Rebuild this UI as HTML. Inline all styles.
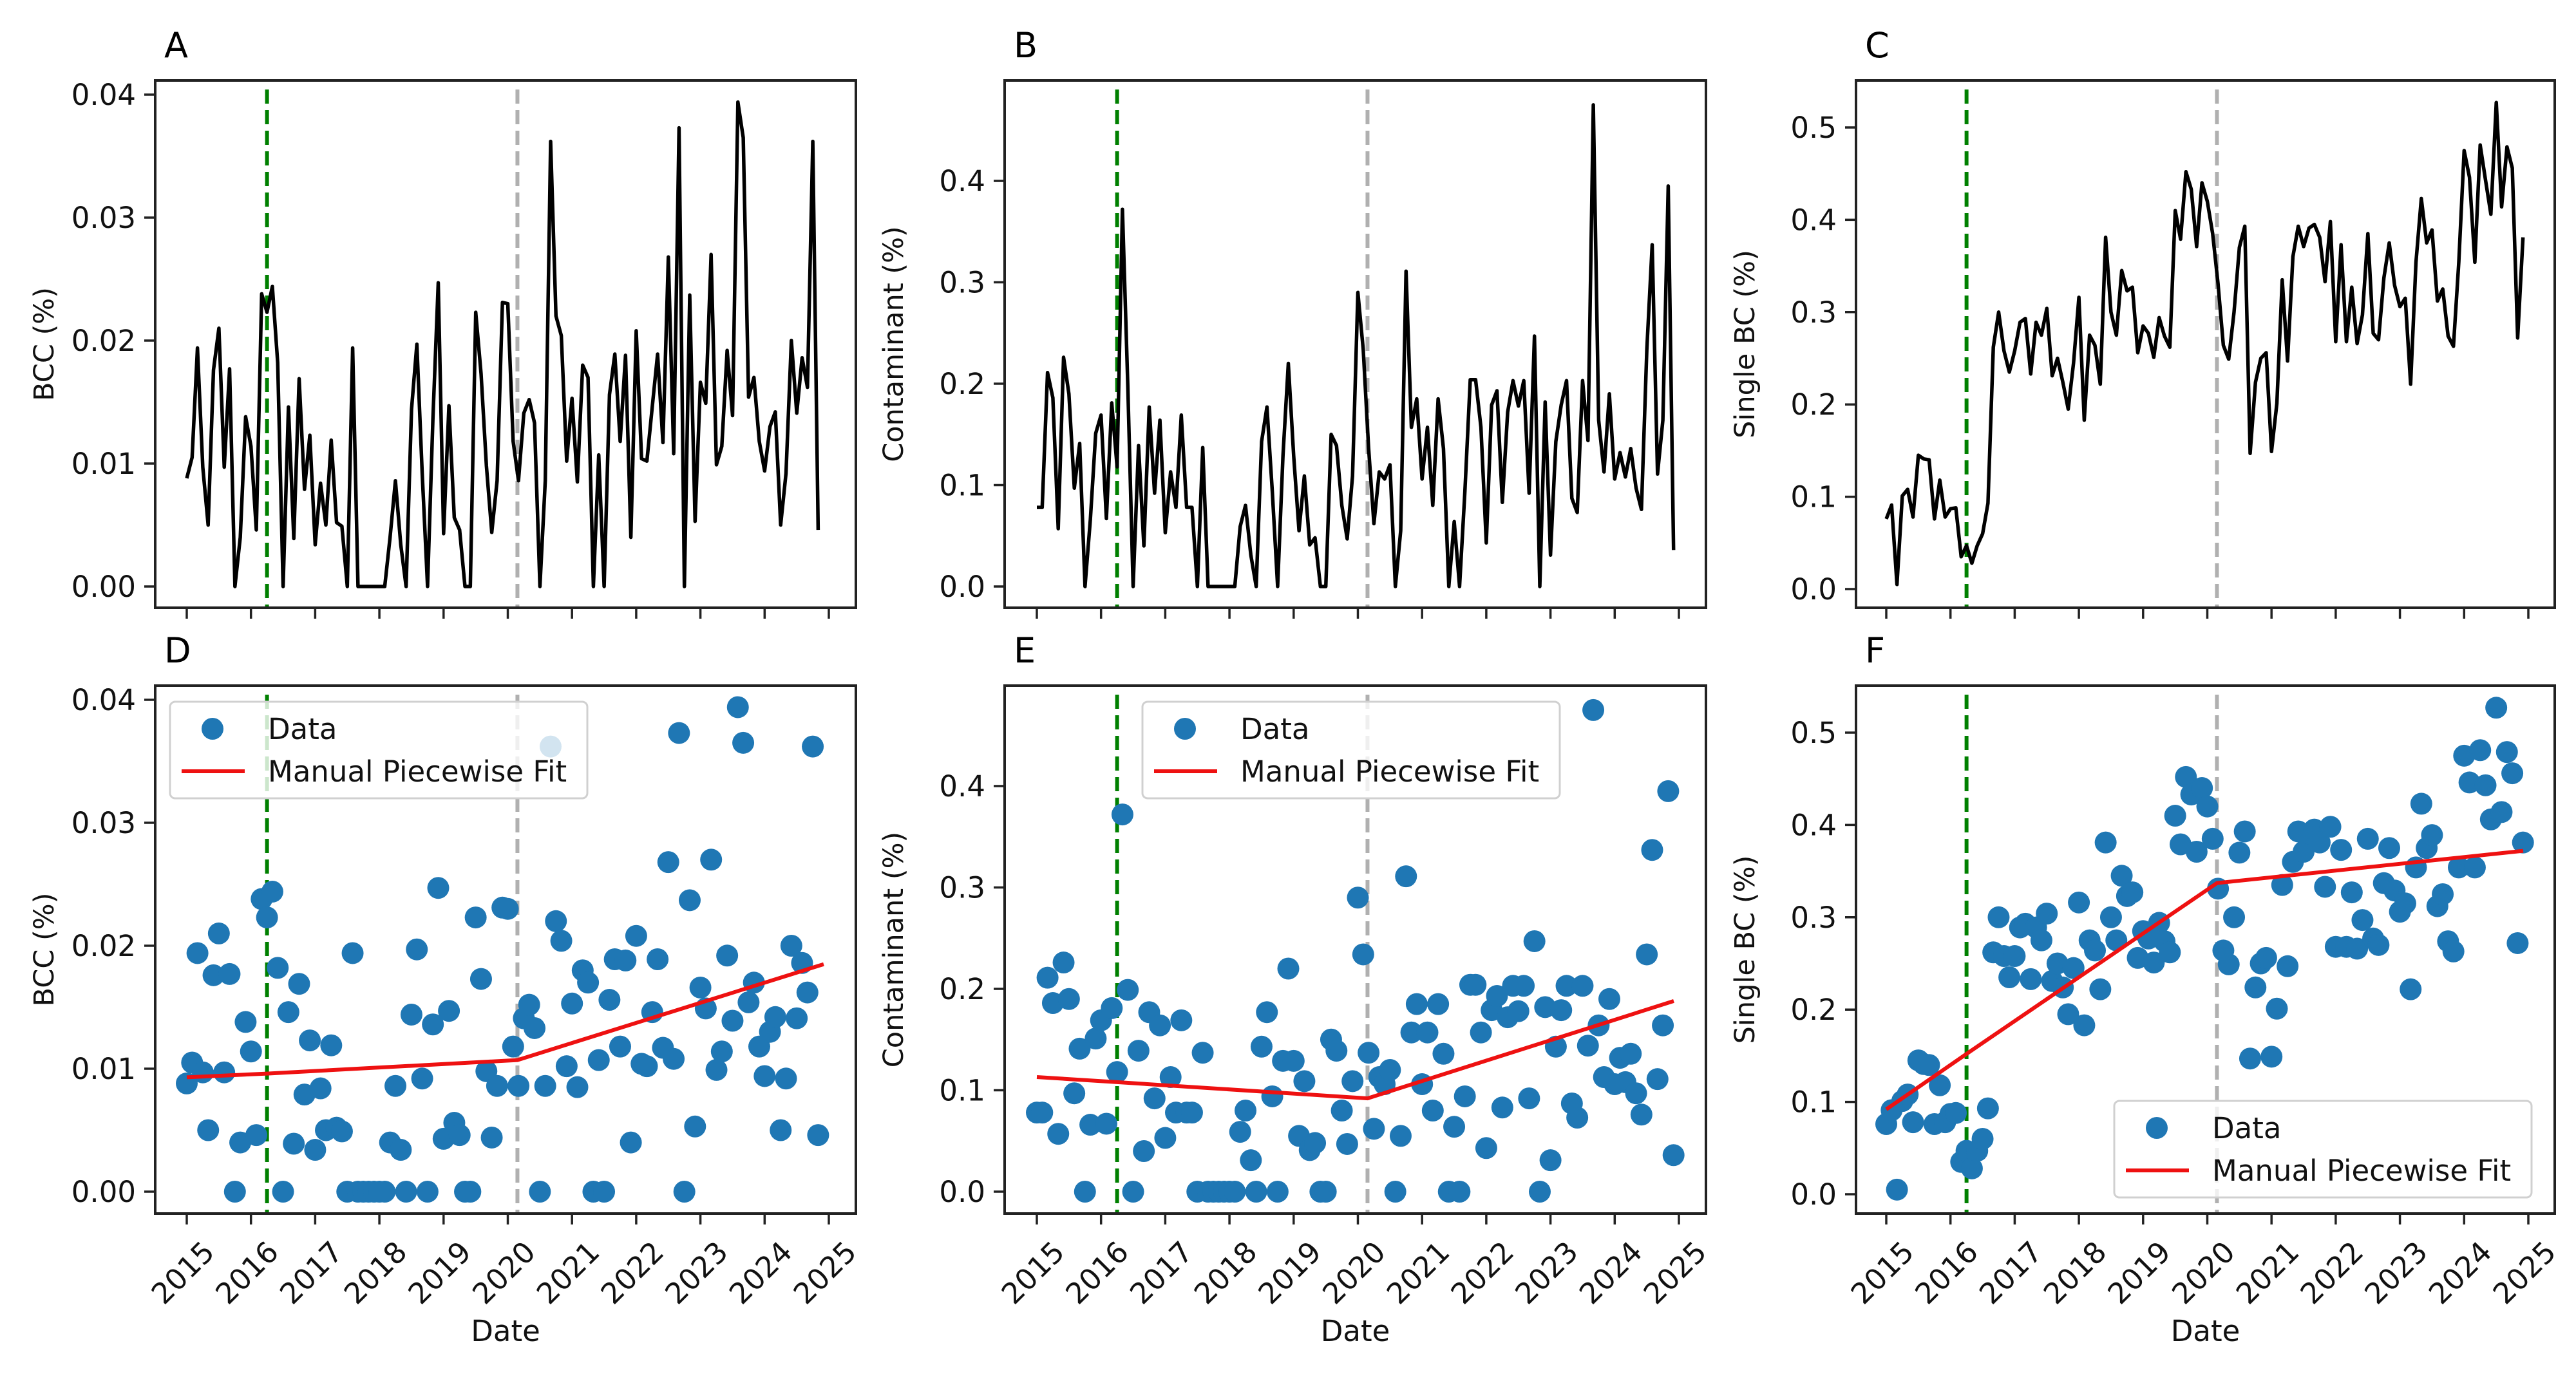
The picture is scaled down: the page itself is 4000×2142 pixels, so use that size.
<!DOCTYPE html>
<html><head><meta charset="utf-8"><style>
html,body{margin:0;padding:0;background:#fff;}
svg{display:block;font-family:"DejaVu Sans","Liberation Sans",sans-serif;}
</style></head><body>
<svg id="fig" width="4000" height="2142" viewBox="0 0 4000 2142" xmlns="http://www.w3.org/2000/svg"></svg>
<script>
const bccValues=[0.0088,0.0105,0.0194,0.0097,0.0050,0.0176,0.0210,0.0097,0.0177,0,0.0040,0.0138,0.0114,0.0046,0.0238,0.0223,0.0244,0.0182,0,0.0146,0.0039,0.0169,0.0079,0.0123,0.0034,0.0084,0.0050,0.0119,0.0052,0.0049,0,0.0194,0,0,0,0,0,0,0.0040,0.0086,0.0034,0,0.0144,0.0197,0.0092,0,0.0136,0.0247,0.0043,0.0147,0.0056,0.0046,0,0,0.0223,0.0173,0.0098,0.0044,0.0086,0.0231,0.0230,0.0118,0.0086,0.0141,0.0152,0.0133,0,0.0086,0.0362,0.0220,0.0204,0.0102,0.0153,0.0085,0.0180,0.0170,0,0.0107,0,0.0156,0.0189,0.0118,0.0188,0.0040,0.0208,0.0104,0.0102,0.0146,0.0189,0.0117,0.0268,0.0108,0.0373,0,0.0237,0.0053,0.0166,0.0149,0.0270,0.0099,0.0114,0.0192,0.0139,0.0394,0.0365,0.0154,0.0170,0.0118,0.0094,0.0130,0.0142,0.0050,0.0092,0.0200,0.0141,0.0186,0.0162,0.0362,0.0046];
const contValues=[0.078,0.078,0.211,0.186,0.057,0.226,0.190,0.097,0.141,0,0.066,0.151,0.169,0.067,0.181,0.118,0.372,0.199,0,0.139,0.040,0.177,0.092,0.164,0.053,0.113,0.078,0.169,0.078,0.078,0,0.137,0,0,0,0,0,0,0.059,0.080,0.031,0,0.143,0.177,0.094,0,0.129,0.220,0.129,0.055,0.109,0.041,0.048,0,0,0.150,0.139,0.080,0.047,0.109,0.290,0.234,0.137,0.062,0.113,0.106,0.120,0,0.055,0.311,0.157,0.185,0.106,0.157,0.080,0.185,0.136,0,0.064,0,0.094,0.204,0.204,0.157,0.043,0.179,0.193,0.083,0.172,0.203,0.178,0.203,0.092,0.247,0,0.182,0.031,0.143,0.179,0.203,0.087,0.073,0.203,0.144,0.475,0.164,0.113,0.190,0.106,0.132,0.108,0.136,0.097,0.076,0.234,0.337,0.111,0.164,0.395,0.036];
const singleValues=[0.076,0.091,0.005,0.101,0.108,0.078,0.145,0.141,0.140,0.076,0.118,0.078,0.087,0.088,0.035,0.047,0.028,0.047,0.060,0.093,0.262,0.300,0.258,0.235,0.258,0.289,0.293,0.233,0.289,0.275,0.304,0.231,0.250,0.224,0.195,0.245,0.316,0.183,0.275,0.264,0.222,0.381,0.300,0.275,0.345,0.323,0.327,0.256,0.285,0.277,0.251,0.294,0.274,0.262,0.410,0.379,0.452,0.433,0.371,0.440,0.420,0.385,0.331,0.264,0.249,0.300,0.370,0.393,0.147,0.224,0.250,0.256,0.149,0.201,0.335,0.247,0.360,0.393,0.371,0.391,0.395,0.381,0.333,0.398,0.268,0.373,0.268,0.327,0.266,0.297,0.385,0.277,0.270,0.337,0.375,0.329,0.306,0.315,0.222,0.354,0.423,0.375,0.389,0.312,0.325,0.274,0.263,0.354,0.475,0.446,0.354,0.481,0.443,0.406,0.527,0.414,0.479,0.456,0.272,0.381];
const startYear=2015;
const yearTicks=[2015,2016,2017,2018,2019,2020,2021,2022,2023,2024,2025];
const bccTicks=[0,0.01,0.02,0.03,0.04];
const bccTickLabels=["0.00","0.01","0.02","0.03","0.04"];
const contTicks=[0,0.1,0.2,0.3,0.4];
const contTickLabels=["0.0","0.1","0.2","0.3","0.4"];
const singleTicks=[0,0.1,0.2,0.3,0.4,0.5];
const singleTickLabels=["0.0","0.1","0.2","0.3","0.4","0.5"];
const vlineDates=[2016.25,2020.15];
const fitDates=[2015.0,2016.25,2020.15,2024.92];
const bccFit=[0.0093,0.0096,0.0107,0.0185];
const contFit=[0.113,0.108,0.092,0.188];
const singleFit=[0.092,0.152,0.337,0.372];

const NS="http://www.w3.org/2000/svg";
const svg=document.getElementById('fig');
function mk(tag,attrs,parent){const e=document.createElementNS(NS,tag);for(const k in attrs)e.setAttribute(k,attrs[k]);(parent||svg).appendChild(e);return e;}

const cols=[{left:241,right:1329,x0:290},{left:1560,right:2649,x0:1610},{left:2882,right:3967,x0:2929}];
const rows=[{top:125,bottom:944},{top:1065,bottom:1885}];
const yearPx=99.7;
const panels=[
 {letter:'A',col:0,row:0,vals:bccValues,ticks:bccTicks,labels:bccTickLabels,zero:911,scale:19100,ylabel:'BCC (%)',scatter:false},
 {letter:'B',col:1,row:0,vals:contValues,ticks:contTicks,labels:contTickLabels,zero:911,scale:1575,ylabel:'Contaminant (%)',scatter:false},
 {letter:'C',col:2,row:0,vals:singleValues,ticks:singleTicks,labels:singleTickLabels,zero:915,scale:1434,ylabel:'Single BC (%)',scatter:false},
 {letter:'D',col:0,row:1,vals:bccValues,ticks:bccTicks,labels:bccTickLabels,zero:1851,scale:19100,ylabel:'BCC (%)',scatter:true,fit:bccFit,legend:{x:264,y:1090}},
 {letter:'E',col:1,row:1,vals:contValues,ticks:contTicks,labels:contTickLabels,zero:1851,scale:1575,ylabel:'Contaminant (%)',scatter:true,fit:contFit,legend:{x:1774,y:1090}},
 {letter:'F',col:2,row:1,vals:singleValues,ticks:singleTicks,labels:singleTickLabels,zero:1855,scale:1434,ylabel:'Single BC (%)',scatter:true,fit:singleFit,legend:{x:3283,y:1710}}
];

panels.forEach(p=>{
  const c=cols[p.col],r=rows[p.row];
  const X=d=>c.x0+(d-startYear)*yearPx;
  const Y=v=>p.zero-v*p.scale;
  const g=mk('g',{});
  
  
  const clipId='clip'+p.letter;
  const cp=mk('clipPath',{id:clipId},g);
  mk('rect',{x:c.left,y:r.top,width:c.right-c.left,height:r.bottom-r.top},cp);
  // letter
  const t=mk('text',{x:c.left+14,y:r.top-36,'font-size':54,fill:'#000'},g);
  t.textContent=p.letter;
  
  
  // plot group
  const pg=mk('g',{'clip-path':'url(#'+clipId+')'},g);
  // vlines
  vlineDates.forEach((d,i)=>{
    const l=mk('line',{x1:X(d),x2:X(d),y1:r.top+14,y2:r.bottom,stroke:i===0?'#008000':'#b0b0b0','stroke-width':6,'stroke-dasharray':'22,10'},pg);
    
    
  });
  if(!p.scatter){
    const pts=p.vals.map((v,i)=>X(startYear+i/12).toFixed(1)+','+Y(v).toFixed(1)).join(' ');
    const pl=mk('polyline',{points:pts,fill:'none',stroke:'#000','stroke-width':5.5,'stroke-linejoin':'round'},pg);
    
    
  } else {
    p.vals.forEach((v,i)=>{
      const ci=mk('circle',{cx:X(startYear+i/12),cy:Y(v),r:17,fill:'#1f77b4'},pg);
      
      
    });
    const fp=p.fit.map((v,i)=>X(fitDates[i]).toFixed(1)+','+Y(v).toFixed(1)).join(' ');
    const fl=mk('polyline',{points:fp,fill:'none',stroke:'#ee1111','stroke-width':6},pg);
    
    
  }
  // frame
  const fr=mk('rect',{x:c.left,y:r.top,width:c.right-c.left,height:r.bottom-r.top,fill:'none',stroke:'#222','stroke-width':4},g);
  
  
  // y ticks
  p.ticks.forEach((v,i)=>{
    const y=Y(v);
    mk('line',{x1:c.left-17,x2:c.left,y1:y,y2:y,stroke:'#222','stroke-width':3.5},g);
    const tl=mk('text',{x:c.left-30,y:y+16,'font-size':45,'text-anchor':'end',fill:'#111'},g);
    tl.textContent=p.labels[i];
    
    
  });
  // x ticks
  yearTicks.forEach(yr=>{
    const x=X(yr);
    mk('line',{x1:x,x2:x,y1:r.bottom,y2:r.bottom+17,stroke:'#222','stroke-width':3.5},g);
    if(p.row===1){
      const tl=mk('text',{x:x-6,y:r.bottom+92,'font-size':45,'text-anchor':'middle','dominant-baseline':'central',fill:'#111',transform:'rotate(-45 '+(x-6)+' '+(r.bottom+92)+')'},g);
      tl.textContent=String(yr);
      
      
    }
  });
  if(p.row===1){
    const xl=mk('text',{x:(c.left+c.right)/2,y:r.bottom+198,'font-size':45,'text-anchor':'middle',fill:'#111'},g);
    xl.textContent='Date';
    
    
  }
  const yc=(r.top+r.bottom)/2, yx=c.left-172;
  const yl=mk('text',{x:yx,y:yc,'font-size':43,'text-anchor':'middle','dominant-baseline':'central',fill:'#111',transform:'rotate(-90 '+yx+' '+yc+')'},g);
  yl.textContent=p.ylabel;
  
  
  if(p.legend){
    const L=p.legend;
    const lg=mk('g',{},g);
    
    
    mk('rect',{x:L.x,y:L.y,width:648,height:150,rx:8,fill:'#fff','fill-opacity':0.8,stroke:'#d0d0d0','stroke-width':3},lg);
    const m=mk('circle',{cx:L.x+66,cy:L.y+42,r:17,fill:'#1f77b4'},lg);
    
    
    const t1=mk('text',{x:L.x+152,y:L.y+58,'font-size':45,fill:'#111'},lg);
    t1.textContent='Data';
    
    
    mk('line',{x1:L.x+18,x2:L.x+116,y1:L.y+108,y2:L.y+108,stroke:'#ee1111','stroke-width':6},lg);
    const t2=mk('text',{x:L.x+152,y:L.y+124,'font-size':45,fill:'#111'},lg);
    t2.textContent='Manual Piecewise Fit';
    
    
  }
});
</script>
</body></html>
